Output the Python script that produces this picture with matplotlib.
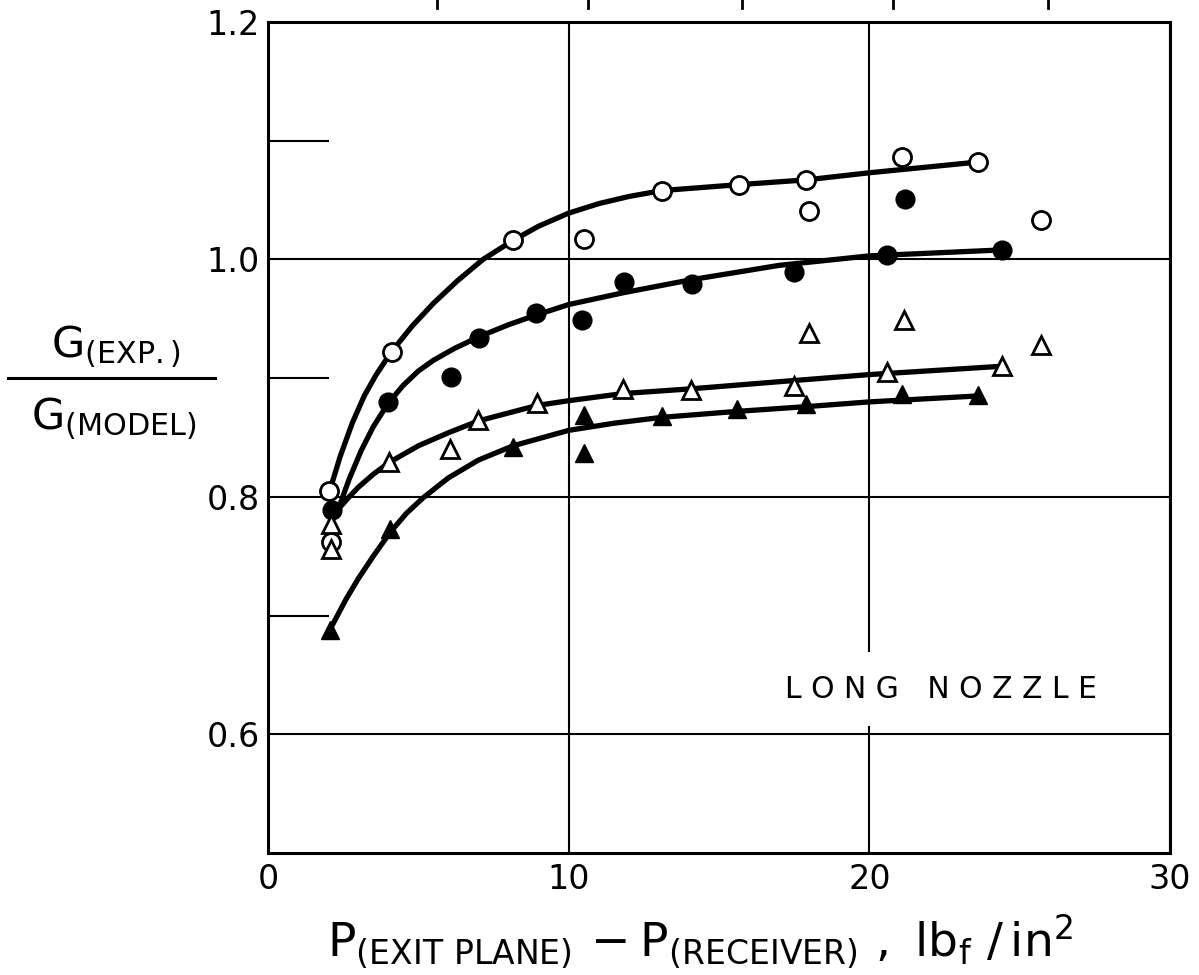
import matplotlib
matplotlib.use("Agg")
import matplotlib.pyplot as plt
from matplotlib.lines import Line2D

plt.rcParams['font.family'] = ['DejaVu Sans']
plt.rcParams['mathtext.default'] = 'regular'

# ---------------- data ----------------
x_ticks = [0, 10, 20, 30]
x_tick_labels = ["0", "10", "20", "30"]
y_ticks = [0.6, 0.8, 1.0, 1.2]
y_tick_labels = ["0.6", "0.8", "1.0", "1.2"]
y_short_ticks = [0.7, 0.9, 1.1]

# open circles
oc_x = [2.03, 2.10, 4.12, 8.15, 10.5, 13.1, 15.66, 17.9, 18.0, 21.1, 23.6, 25.7]
oc_y = [0.805, 0.762, 0.922, 1.016, 1.017, 1.058, 1.063, 1.067, 1.041, 1.086, 1.082, 1.033]
# filled circles
fc_x = [2.12, 4.0, 6.1, 7.03, 8.9, 10.45, 11.83, 14.1, 17.5, 20.6, 21.2, 24.4]
fc_y = [0.789, 0.880, 0.901, 0.934, 0.955, 0.949, 0.981, 0.979, 0.989, 1.004, 1.051, 1.008]
# open triangles
ot_x = [2.10, 2.10, 4.03, 6.05, 7.0, 8.95, 11.8, 14.07, 17.5, 18.0, 20.6, 21.15, 24.4, 25.7]
ot_y = [0.777, 0.756, 0.829, 0.840, 0.865, 0.879, 0.891, 0.890, 0.893, 0.938, 0.905, 0.949, 0.910, 0.928]
# filled triangles
ft_x = [2.06, 4.06, 8.15, 10.5, 10.5, 13.1, 15.6, 17.9, 21.1, 23.6]
ft_y = [0.688, 0.773, 0.842, 0.869, 0.837, 0.868, 0.874, 0.878, 0.887, 0.886]

# hand-drawn fit curves (nodes)
cA_x = [2.05, 2.4, 2.8, 3.2, 3.6, 4.1, 4.8, 5.5, 6.3, 7.15, 8.15, 9.0, 10.0, 11.0, 12.0, 13.1, 15.66, 17.9, 20.0, 23.6]
cA_y = [0.805, 0.834, 0.862, 0.885, 0.903, 0.922, 0.944, 0.963, 0.982, 1.000, 1.016, 1.028, 1.039, 1.047, 1.053, 1.058, 1.063, 1.067, 1.073, 1.082]
cB_x = [2.3, 2.7, 3.1, 3.5, 4.0, 4.5, 5.0, 5.5, 6.2, 7.03, 8.0, 8.9, 10.0, 11.83, 14.1, 17.0, 20.0, 24.4]
cB_y = [0.787, 0.815, 0.839, 0.859, 0.879, 0.894, 0.906, 0.915, 0.925, 0.935, 0.945, 0.953, 0.962, 0.972, 0.983, 0.995, 1.003, 1.008]
cC_x = [2.35, 2.7, 3.0, 3.5, 4.03, 5.0, 6.0, 7.0, 8.95, 10.0, 11.8, 14.07, 17.0, 20.0, 24.4]
cC_y = [0.790, 0.800, 0.808, 0.819, 0.829, 0.843, 0.854, 0.864, 0.877, 0.881, 0.887, 0.891, 0.897, 0.903, 0.910]
cD_x = [2.1, 2.6, 3.0, 3.5, 4.06, 4.6, 5.15, 6.0, 7.0, 8.15, 10.0, 11.5, 13.1, 15.6, 17.9, 20.0, 23.6]
cD_y = [0.690, 0.714, 0.731, 0.750, 0.770, 0.786, 0.799, 0.816, 0.831, 0.843, 0.856, 0.862, 0.867, 0.872, 0.876, 0.880, 0.885]

# fragments of the figure above (cut off at the top edge), figure px
top_frag_px = [437, 588, 742, 893, 1048]

# ---------------- figure ----------------
W, H = 1199, 975
fig = plt.figure(figsize=(W / 100, H / 100), dpi=100)
ax = fig.add_axes([268 / W, 1 - 853 / H, (1170 - 268) / W, (853 - 22) / H])
ax.set_xlim(0, 30)
ax.set_ylim(0.5, 1.2)

for s in ax.spines.values():
    s.set_linewidth(2.2)
    s.set_color('black')

ax.set_xticks(x_ticks)
ax.set_xticklabels(x_tick_labels)
ax.set_yticks(y_ticks)
ax.set_yticklabels(y_tick_labels)
ax.tick_params(axis='both', length=0, labelsize=24)
ax.tick_params(axis='x', pad=7)
ax.tick_params(axis='y', pad=6)
ax.grid(True, color='black', linewidth=1.5)
ax.set_axisbelow(True)

for yv in y_short_ticks:
    ax.axhline(yv, xmin=0, xmax=2.0 / 30, color='black', linewidth=1.5)

lw = 3.8
for cx, cy in [(cA_x, cA_y), (cB_x, cB_y), (cC_x, cC_y), (cD_x, cD_y)]:
    ax.plot(cx, cy, color='black', linewidth=lw, solid_capstyle='round',
            solid_joinstyle='round', zorder=3)

ax.plot(oc_x, oc_y, linestyle='none', marker='o', markersize=13,
        markerfacecolor='white', markeredgecolor='black', markeredgewidth=2.0, zorder=4)
ax.plot(fc_x, fc_y, linestyle='none', marker='o', markersize=13.5,
        markerfacecolor='black', markeredgecolor='black', zorder=4)
ax.plot(ot_x, ot_y, linestyle='none', marker='^', markersize=12.5,
        markerfacecolor='white', markeredgecolor='black', markeredgewidth=2.0, zorder=5)
ax.plot(ft_x, ft_y, linestyle='none', marker='^', markersize=13.5,
        markerfacecolor='black', markeredgecolor='black', zorder=4)

ax.text(22.4, 0.638, "L O N G   N O Z Z L E", fontsize=21.5, ha='center', va='center',
        bbox=dict(boxstyle='square,pad=0.75', fc='white', ec='none'), zorder=6)

# y label as a fraction
fig.text(116 / W, 1 - 371 / H, r'$G_{(EXP.)}$', fontsize=31, ha='center', va='bottom')
fig.text(114 / W, 1 - 396 / H, r'$G_{(MODEL)}$', fontsize=31, ha='center', va='top')
fig.add_artist(Line2D([8 / W, 215 / W], [1 - 378 / H, 1 - 378 / H], color='black', linewidth=2.2))

# x label
fig.text(700 / W, 1 - 970 / H,
         r'$P_{(EXIT\ PLANE)}\,-P_{(RECEIVER)}\ ,\ lb_f\ /\,in^2$',
         fontsize=34, ha='center', va='bottom')

for xp in top_frag_px:
    fig.add_artist(Line2D([xp / W, xp / W], [1.0, 1 - 8 / H], color='black', linewidth=2.0))

fig.savefig("out.png", dpi=100, facecolor='white')
